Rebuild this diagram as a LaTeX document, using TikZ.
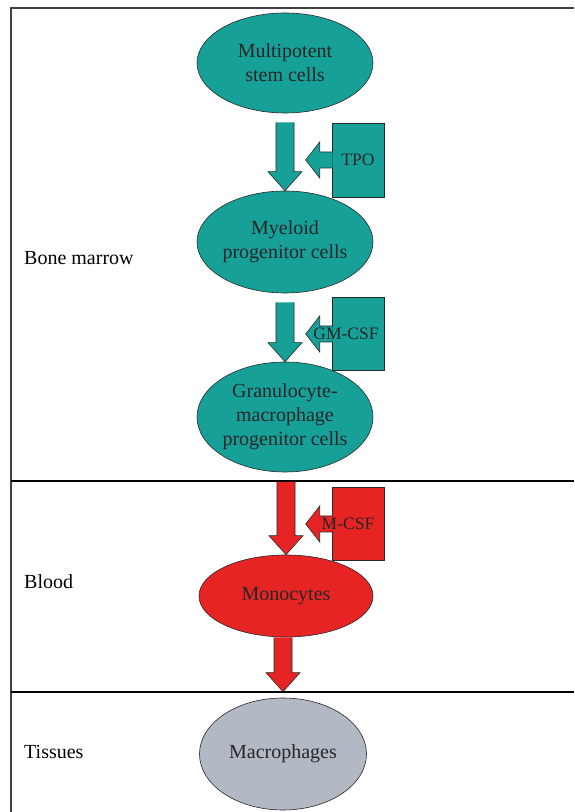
\documentclass[tikz,border=0pt]{standalone}
\usepackage{fontspec}
\setmainfont{Liberation Serif}
\usetikzlibrary{shapes.geometric,calc}
\definecolor{cellteal}{RGB}{22,160,152}
\definecolor{cellred}{RGB}{230,36,36}
\definecolor{cellgray}{RGB}{178,185,196}
\definecolor{rim}{RGB}{40,40,40}
% fat block arrow pointing down: #1 colour, #2 start, #3 tip
\newcommand{\fatdown}[3]{%
  \filldraw[fat,fill=#1] let \p1=(#2), \p2=(#3) in
    (\x2-9pt,\y1) -- (\x2-9pt,\y2+19pt) -- (\x2-17pt,\y2+19pt) -- (\x2,\y2)
    -- (\x2+17pt,\y2+19pt) -- (\x2+9pt,\y2+19pt) -- (\x2+9pt,\y1);}
% fat block arrow pointing left out of a factor box: #1 colour, #2 box
\newcommand{\fatleft}[2]{%
  \filldraw[fat,fill=#1] let \p1=(#2.west) in
    (\x1+1pt,\y1+8pt) -- (\x1-12pt,\y1+8pt) -- (\x1-12pt,\y1+18pt) -- (\x1-26pt,\y1)
    -- (\x1-12pt,\y1-18pt) -- (\x1-12pt,\y1-8pt) -- (\x1+1pt,\y1-8pt);}

\begin{document}
\begin{tikzpicture}[x=1pt,y=1pt,
  cell/.style={draw=rim,ellipse,line width=0.6pt,inner ysep=0pt,inner xsep=-6pt,
    align=center,font=\fontsize{20}{24}\selectfont,text=black!85},
  factor/.style={draw=rim,line width=0.6pt,minimum width=52pt,minimum height=73pt,inner sep=0pt},
  factorlbl/.style={inner sep=0pt,font=\fontsize{17.5}{20}\selectfont,text=black!85},
  fat/.style={line width=0.6pt,draw=rim,line join=miter},
  zone/.style={anchor=west,inner sep=0pt,font=\fontsize{20}{24}\selectfont},
  divider/.style={line width=1.6pt}]
\useasboundingbox (0,0) rectangle (574,812);

% cells
\node[cell,fill=cellteal,minimum width=176pt,minimum height=100pt] (stem) at (285,749) {Multipotent\\stem cells};
\node[cell,fill=cellteal,minimum width=176pt,minimum height=102pt] (myel) at (285,570) {Myeloid\\progenitor cells};
\node[cell,fill=cellteal,minimum width=176pt,minimum height=110pt] (gmp) at (285,395) {Granulocyte-\\macrophage\\progenitor cells};
\node[cell,fill=cellred,minimum width=174pt,minimum height=82pt] (mono) at (286,216) {Monocytes};
\node[cell,fill=cellgray,minimum width=167pt,minimum height=112pt] (macro) at (283,58) {Macrophages};

% growth factors
\node[factor,fill=cellteal,minimum height=74pt] (tpo) at (358,652) {};
\node[factor,fill=cellteal] (gmcsf) at (358,478) {};
\node[factor,fill=cellred] (mcsf) at (358,288) {};
\fatleft{cellteal}{tpo}
\fatleft{cellteal}{gmcsf}
\fatleft{cellred}{mcsf}
\node[factorlbl] (tpolbl) at (tpo.center) {TPO};
\node[factorlbl] (gmcsflbl) at ([xshift=-12pt]gmcsf.center) {GM-CSF};
\node[factorlbl] (mcsflbl) at ([xshift=-10pt]mcsf.center) {M-CSF};

% differentiation
\fatdown{cellteal}{$(stem.south)+(0,-9)$}{myel.north}
\fatdown{cellteal}{$(myel.south)+(0,-9)$}{gmp.north}
\fatdown{cellred}{$(gmp.south)+(0,-9)$}{mono.north}
\fatdown{cellred}{mono.south}{$(macro.north)+(0,6)$}

% compartments
\draw[line width=1.2pt,black!75] (574,804) -- (11,804) -- (11,0);
\draw[divider] (11,331) -- (574,331);
\draw[divider] (11,120) -- (574,120);
\node[zone] (bone) at (24,554) {Bone marrow};
\node[zone] (blood) at (24,230) {Blood};
\node[zone] (tissue) at (24,60) {Tissues};
\end{tikzpicture}
\end{document}
